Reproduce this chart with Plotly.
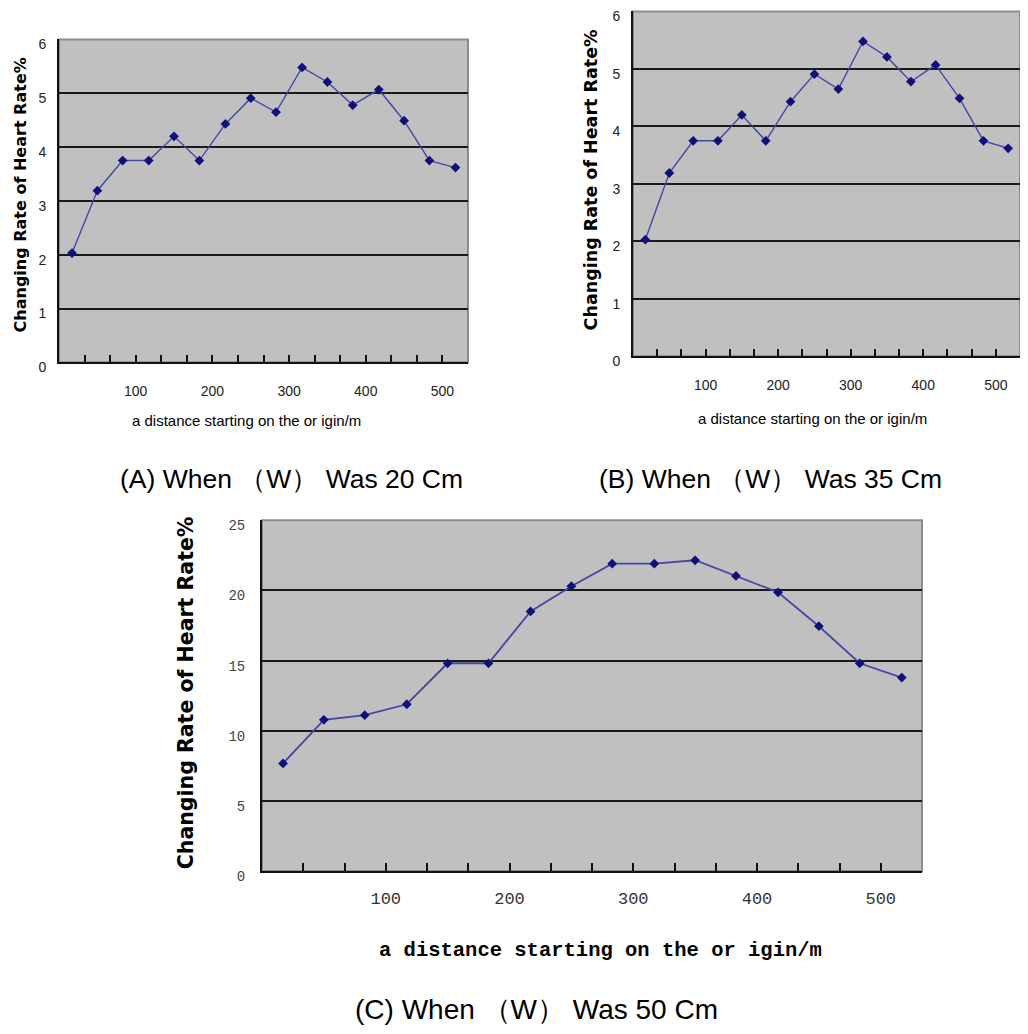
import plotly.graph_objects as go

# ---------------- data ----------------
distance_m = [17, 50, 83, 117, 150, 183, 217, 250, 283, 317, 350, 383, 417, 450, 483, 517]
rate_w20 = [2.03, 3.19, 3.75, 3.75, 4.20, 3.75, 4.43, 4.91, 4.65, 5.48, 5.21, 4.78, 5.07, 4.49, 3.75, 3.62]
rate_w35 = [2.03, 3.19, 3.75, 3.75, 4.20, 3.75, 4.43, 4.91, 4.65, 5.48, 5.21, 4.78, 5.07, 4.49, 3.75, 3.62]
rate_w50 = [7.67, 10.78, 11.11, 11.89, 14.81, 14.81, 18.50, 20.30, 21.91, 21.91, 22.15, 21.03, 19.87, 17.45, 14.81, 13.79]
x_tick_labels = [100, 200, 300, 400, 500]

y_title = "Changing Rate of Heart Rate%"
x_title = "a distance starting on the or igin/m"
captions = ["(A) When （W） Was 20 Cm", "(B) When （W） Was 35 Cm", "(C) When （W） Was 50 Cm"]

# figure size and mapping from target-picture pixels to figure pixels
W, H = 1012, 1034
OX = 8
SY, OY = 0.984, 10.5


def fy(y):
    return (y - OY) / SY


def px(x):
    return (x - OX) / W


def py(y):
    return 1 - fy(y) / H


fig = go.Figure()

panels = [
    dict(y=rate_w20, ymax=6, dtick=1, box=(59, 468, 39, 362), xs="x", ys="y", lw=1.4),
    dict(y=rate_w35, ymax=6, dtick=1, box=(633, 1023, 11, 356), xs="x2", ys="y2", lw=1.4),
    dict(y=rate_w50, ymax=25, dtick=5, box=(262, 922, 520, 871), xs="x3", ys="y3", lw=1.8),
]

small_tick_font = dict(family="Liberation Sans Narrow, Liberation Sans, sans-serif", size=14, color="#222222")

for i, p in enumerate(panels):
    fig.add_trace(go.Scatter(
        x=distance_m, y=p["y"], mode="lines+markers",
        line=dict(color="#4646a4", width=p["lw"]),
        marker=dict(symbol="diamond", size=7.5, color="#10107a"),
        xaxis=p["xs"], yaxis=p["ys"], showlegend=False,
        hoverinfo="x+y",
    ))
    l, r, t, b = p["box"]
    n = "" if i == 0 else str(i + 1)
    big = i == 2
    xfont = dict(family="Liberation Mono, monospace", size=17, color="#333333") if big else small_tick_font
    yfont = dict(family="Liberation Mono, monospace", size=14, color="#444444") if big else small_tick_font
    fig.layout["xaxis" + n] = dict(
        domain=[px(l), min(px(r), 1.0)], anchor="y" + n, range=[0, 533.33],
        tickmode="array", tickvals=x_tick_labels, ticktext=[str(v) for v in x_tick_labels],
        ticks="inside", ticklen=8 if big else 7, tickwidth=1.5, tickcolor="#111111",
        minor=dict(tickmode="linear", tick0=0, dtick=100 / 3, ticks="inside",
                   ticklen=8 if big else 7, tickwidth=1.5, tickcolor="#111111", showgrid=False),
        showgrid=False, zeroline=False,
        showline=True, linecolor="#111111", linewidth=2,
        tickfont=xfont, ticklabelstandoff=10 if big else 15,
        fixedrange=True,
    )
    fig.layout["yaxis" + n] = dict(
        domain=[py(b), min(py(t), 1.0)], anchor="x" + n, range=[0, p["ymax"]],
        tickmode="linear", tick0=0, dtick=p["dtick"],
        ticks="", showgrid=True, gridcolor="#1a1a1a", gridwidth=1.6,
        zeroline=False, showline=True, linecolor="#111111", linewidth=2,
        tickfont=yfont, ticklabelstandoff=12 if big else 8, ticklabelshift=5,
        ticklabeloverflow="allow",
        fixedrange=True,
    )
    fig.add_shape(type="rect", xref="x" + n + " domain", yref="y" + n + " domain",
                  x0=0, x1=1, y0=0, y1=1, line=dict(color="#8c8c8c", width=2),
                  fillcolor="rgba(0,0,0,0)", layer="below")

# y-axis titles (rotated)
fig.add_annotation(x=px(8.5), y=py(195), xref="paper", yref="paper", text=y_title,
                   textangle=-90, showarrow=False, xanchor="left", yanchor="middle",
                   font=dict(family="DejaVu Sans", size=16, color="#000000", weight="bold"))
fig.add_annotation(x=px(591), y=py(180), xref="paper", yref="paper", text=y_title,
                   textangle=-90, showarrow=False, xanchor="center", yanchor="middle",
                   font=dict(family="DejaVu Sans", size=17.5, color="#000000", weight="bold"))
fig.add_annotation(x=px(186), y=py(693), xref="paper", yref="paper", text=y_title,
                   textangle=-90, showarrow=False, xanchor="center", yanchor="middle",
                   font=dict(family="DejaVu Sans", size=20.5, color="#000000", weight="bold"))

# x-axis titles
for (x, y) in [(246, 420), (812, 418)]:
    fig.add_annotation(x=px(x), y=py(y), xref="paper", yref="paper", text=x_title,
                       showarrow=False, xanchor="center", yanchor="middle",
                       font=dict(family="Liberation Sans Narrow, Liberation Sans, sans-serif",
                                 size=15, color="#000000"))
fig.add_annotation(x=px(600), y=py(950), xref="paper", yref="paper", text=x_title,
                   showarrow=False, xanchor="center", yanchor="middle",
                   font=dict(family="Liberation Mono, monospace", size=20.5, color="#000000", weight="bold"))

# captions (kept inside the figure so nothing spills past its lower edge)
for (x, y, s), c in zip([(291, 479, 26.5), (770, 479, 26.5), (536, 1016, 28)], captions):
    yf = min(fy(y), H - 0.68 * s)
    fig.add_annotation(x=px(x), y=1 - yf / H, xref="paper", yref="paper", text=c,
                       showarrow=False, xanchor="center", yanchor="middle",
                       font=dict(family="Liberation Sans, Arial, sans-serif", size=s, color="#000000"))

fig.update_layout(
    width=W, height=H, margin=dict(l=0, r=0, t=0, b=0),
    paper_bgcolor="#ffffff", plot_bgcolor="#c0c0c0",
    showlegend=False,
)

fig.write_html("out.html", config={"displayModeBar": False})
